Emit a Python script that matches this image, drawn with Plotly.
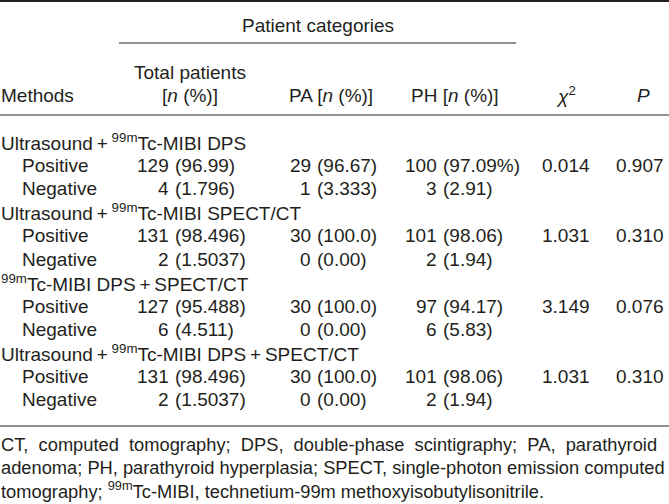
import plotly.graph_objects as go

# Table contents
methods = [
    "Ultrasound\u2009+\u2009<sup>99m</sup>Tc-MIBI DPS",
    "Ultrasound\u2009+\u2009<sup>99m</sup>Tc-MIBI SPECT/CT",
    "<sup>99m</sup>Tc-MIBI DPS\u2009+\u2009SPECT/CT",
    "Ultrasound\u2009+\u2009<sup>99m</sup>Tc-MIBI DPS\u2009+\u2009SPECT/CT",
]
total_pos_n = [129, 131, 127, 131]
total_pos_pct = ["96.99", "98.496", "95.488", "98.496"]
total_neg_n = [4, 2, 6, 2]
total_neg_pct = ["1.796", "1.5037", "4.511", "1.5037"]
pa_pos_n = [29, 30, 30, 30]
pa_pos_pct = ["96.67", "100.0", "100.0", "100.0"]
pa_neg_n = [1, 0, 0, 0]
pa_neg_pct = ["3.333", "0.00", "0.00", "0.00"]
ph_pos_n = [100, 101, 97, 101]
ph_pos_pct = ["97.09%", "98.06", "94.17", "98.06"]
ph_neg_n = [3, 2, 6, 2]
ph_neg_pct = ["2.91", "1.94", "5.83", "1.94"]
chi2 = ["0.014", "1.031", "3.149", "1.031"]
p_values = ["0.907", "0.310", "0.076", "0.310"]

footnote = [
    "CT, computed tomography; DPS, double-phase scintigraphy; PA, parathyroid",
    "adenoma; PH, parathyroid hyperplasia; SPECT, single-photon emission computed",
    "tomography; <sup>99m</sup>Tc-MIBI, technetium-99m methoxyisobutylisonitrile.",
]

W, H = 669, 504
FONT = "Liberation Sans, Arial, sans-serif"
INK = "#231f20"
FS = 19

# column anchors (position of the opening bracket)
col_total, col_pa, col_ph = 174, 316, 442
col_chi, col_p = 566, 640


def row_y(k):
    return 142 + k * 23.45


annotations = []


def txt(x, y, s, anchor="left", size=FS):
    annotations.append(dict(x=x, y=y, xref="x", yref="y", text=s, showarrow=False,
                            xanchor=anchor, yanchor="middle", borderpad=0,
                            font=dict(family=FONT, size=size, color=INK)))


# header
txt(318, 25, "Patient categories", "center")
txt(190, 72, "Total patients", "center")
txt(190, 95, "[<i>n</i> (%)]", "center")
txt(0, 95, "Methods")
txt(331, 95, "PA [<i>n</i> (%)]", "center")
txt(455, 95, "PH [<i>n</i> (%)]", "center")
txt(col_chi, 95, "<i>χ</i><sup>2</sup>", "center")
txt(col_p + 3, 95, "<i>P</i>", "center")


def cell(col, y, n, pct):
    txt(col - 4, y, str(n), "right")
    txt(col, y, "(" + pct + ")", "left")


for i, m in enumerate(methods):
    yg, yp, yn = row_y(3 * i), row_y(3 * i + 1), row_y(3 * i + 2)
    txt(0, yg, m)
    txt(21, yp, "Positive")
    txt(21, yn, "Negative")
    cell(col_total, yp, total_pos_n[i], total_pos_pct[i])
    cell(col_total, yn, total_neg_n[i], total_neg_pct[i])
    cell(col_pa, yp, pa_pos_n[i], pa_pos_pct[i])
    cell(col_pa, yn, pa_neg_n[i], pa_neg_pct[i])
    cell(col_ph, yp, ph_pos_n[i], ph_pos_pct[i])
    cell(col_ph, yn, ph_neg_n[i], ph_neg_pct[i])
    txt(col_chi, yp, chi2[i], "center")
    txt(col_p, yp, p_values[i], "center")

# first footnote line is justified in the original: widen its word gaps
for j, line in enumerate(footnote):
    if j == 0:
        line = line.replace(" ", "\u00a0 ")
    txt(0, 444 + j * 23, line, size=18.3)

rule = dict(color=INK, width=1)
shapes = [
    dict(type="line", xref="x", yref="y", x0=0, x1=W, y0=1, y1=1, line=dict(color=INK, width=2)),
    dict(type="line", xref="x", yref="y", x0=119, x1=516, y0=43, y1=43, line=rule),
    dict(type="line", xref="x", yref="y", x0=0, x1=W, y0=115, y1=115, line=rule),
    dict(type="line", xref="x", yref="y", x0=0, x1=W, y0=426, y1=426, line=rule),
]

fig = go.Figure()
fig.update_layout(
    width=W, height=H,
    margin=dict(l=0, r=0, t=0, b=0),
    paper_bgcolor="white", plot_bgcolor="white",
    xaxis=dict(range=[0, W], visible=False, fixedrange=True),
    yaxis=dict(range=[H, 0], visible=False, fixedrange=True),
    annotations=annotations,
    shapes=shapes,
    showlegend=False,
)

# drop the browser's default body margin so the table sits flush in the window
fig.write_html("out.html", config={"displayModeBar": False},
               post_script="document.body.style.margin='0';")
